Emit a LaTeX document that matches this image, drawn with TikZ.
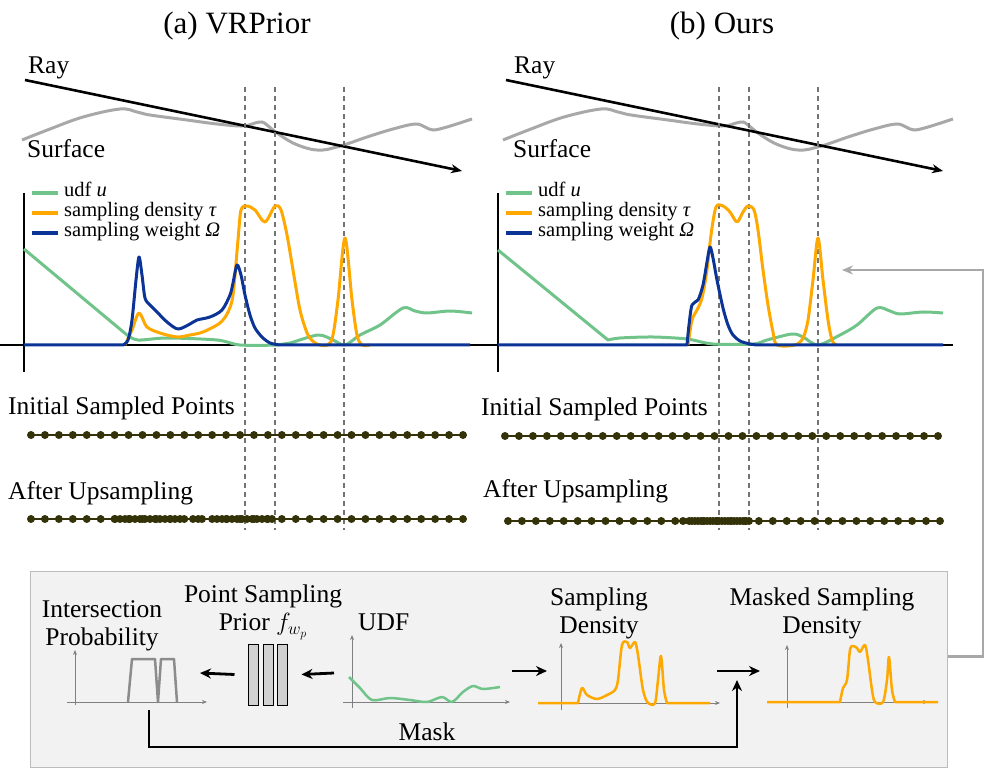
\documentclass[tikz,border=0pt]{standalone}
\usepackage{fontspec}
\setmainfont{Liberation Serif}
\usetikzlibrary{arrows.meta,positioning}

\definecolor{udfgreen}{RGB}{112,196,138}
\definecolor{densorange}{RGB}{255,168,0}
\definecolor{weightblue}{RGB}{12,52,150}
\definecolor{surfgray}{RGB}{168,168,168}
\definecolor{ptolive}{RGB}{52,50,8}
\definecolor{boxfill}{RGB}{242,242,242}
\definecolor{boxline}{RGB}{188,188,188}

\tikzset{
	curve/.style={line width=3pt, line join=round},
	udf/.style={curve, udfgreen},
	dens/.style={curve, densorange},
	weight/.style={curve, weightblue},
	surf/.style={line width=3pt, surfgray},
	raysty/.style={line width=2.6pt, -{Stealth[length=11pt,width=9pt]}},
	guide/.style={dash pattern=on 5pt off 4pt, black!55, line width=1.1pt},
	plotaxis/.style={line width=1.3pt},
	miniaxis/.style={black!50, line width=0.9pt, -{Stealth[length=5pt,width=4pt]}},
	flow/.style={line width=2.8pt, -{Stealth[length=11pt,width=10pt]}},
	feedback/.style={line width=2.4pt, surfgray, -{Stealth[length=11pt,width=9pt]}},
	ptline/.style={ptolive, line width=1.8pt},
	txt/.style={font=\fontsize{25.5}{28}\selectfont, inner sep=0pt},
	legtxt/.style={font=\fontsize{20.5}{22}\selectfont, inner sep=0pt, anchor=west, text height=10pt, text depth=2pt},
	title/.style={font=\fontsize{31}{34}\selectfont, inner sep=0pt},
	priorbox/.style={draw, fill=black!18, line width=1pt, minimum width=10pt, minimum height=61pt, inner sep=0pt},
	panelbox/.style={draw=boxline, fill=boxfill, line width=1.2pt, inner sep=0pt, anchor=north west}
}

\begin{document}
\begin{tikzpicture}[x=1pt, y=-1pt]
	\useasboundingbox (0,0) rectangle (997,778);

	% Titles
	\node[title] (titlea) at (237,26) {(a) VRPrior};
	\node[title] (titleb) at (722,26) {(b) Ours};

	% Ray, surface, guides and legend of both panels
	\foreach \p/\dx/\dr/\dt in {a/0/0/0, b/474/481/486}{
		\node[txt, anchor=base west] (ray\p) at (28+\dt,74) {Ray};
		\node[txt, anchor=base west] (surface\p) at (30+\dt-3,158) {Surface};
		\draw[surf] plot[smooth, tension=0.6] coordinates {(22+\dr,140) (50+\dr,129) (83+\dr,117) (120+\dr,109) (137+\dr,112)
			(150+\dr,115) (187+\dr,120) (217+\dr,124) (243+\dr,126) (255+\dr,123) (262+\dr,122) (267+\dr,125) (277+\dr,133)
			(293+\dr,143) (310+\dr,149) (323+\dr,150) (333+\dr,148) (347+\dr,144) (367+\dr,137) (393+\dr,129) (415+\dr,124)
			(425+\dr,127) (433+\dr,130) (447+\dr,127) (472+\dr,119)};
		\draw[raysty] (25+\dr,80) -- (462+\dr,171);
		\foreach \g in {245,275,344}
			\draw[guide] (\g+\dx,87) -- (\g+\dx,530);
		\draw[plotaxis] (24+\dx,193) -- (24+\dx,372);
		\draw[udf, line width=3.5pt] (32+\dx,193) -- (58+\dx,193);
		\draw[dens, line width=3.5pt] (32+\dx,213) -- (58+\dx,213);
		\draw[weight, line width=3.5pt] (32+\dx,233) -- (58+\dx,233);
		\node[legtxt] (legu\p) at (64+\dx,193) {udf \textit{u}};
		\node[legtxt] (legtau\p) at (64+\dx,213) {sampling density \textit{τ}};
		\node[legtxt] (legomega\p) at (64+\dx,233) {sampling weight \textit{Ω}};
	}
	\draw[plotaxis] (0,345) -- (953,345);

	% Curves of panel (a)
	\draw[udf] (24,249) -- plot[smooth, tension=0.5] coordinates {(127,335) (138,340) (167,338) (217,340) (240,345) (277,345)
		(290,343) (318,335) (333,340) (345,345) (360,335) (380,325) (403,308) (415,311) (427,313) (450,311) (472,313)};
	\draw[dens] plot[smooth, tension=0.5] coordinates {(125,345) (132,330) (139,313) (147,327) (160,333) (177,337) (190,335)
		(203,332) (220,323) (228,312) (233,295) (238,240) (241,210) (247,206) (255,210) (265,222) (275,206) (281,210)
		(287,235) (293,270) (300,310) (308,335) (317,344) (328,345) (333,335) (338,300) (345,238) (352,300) (357,335)
		(362,345) (370,345)};
	\draw[weight] (24,345) -- plot[smooth, tension=0.5] coordinates {(123,345) (128,340) (132,320) (136,280) (139,257)
		(142,275) (145,298) (150,305) (157,312) (167,322) (178,329) (190,324) (197,320) (210,317) (222,310) (230,295)
		(233,283) (237,265) (241,275) (245,295) (250,315) (255,328) (262,337) (270,343) (280,345)} -- (470,345);

	% Curves of panel (b)
	\draw[udf] (498,250) -- plot[smooth, tension=0.5] coordinates {(608,340) (620,338) (653,337) (687,339) (713,344)
		(753,344) (767,340) (792,334) (803,337) (818,345) (840,335) (857,325) (877,308) (890,311) (900,314) (923,312) (943,313)};
	\draw[dens] plot[smooth, tension=0.5] coordinates {(688,345) (692,320) (697,310) (702,298) (707,270) (711,235) (716,207)
		(723,206) (730,212) (737,222) (743,212) (748,206) (754,210) (758,230) (763,270) (768,305) (773,332) (777,345)
		(795,345) (803,338) (808,320) (813,280) (818,238) (823,280) (828,320) (832,340) (836,345)};
	\draw[weight] (498,345) -- plot[smooth, tension=0.5] coordinates {(687,345) (689,325) (692,305) (698,300) (703,285)
		(707,262) (710,247) (713,258) (717,280) (723,308) (728,325) (733,335) (740,341) (750,344) (757,345)} -- (943,345);

	% Sampled points
	\node[txt, anchor=base west] (initiala) at (8,414) {Initial Sampled Points};
	\node[txt, anchor=base west] (initialb) at (481,415) {Initial Sampled Points};
	\node[txt, anchor=base west] (upsampa) at (8,499) {After Upsampling};
	\node[txt, anchor=base west] (upsampb) at (483,497) {After Upsampling};
	\foreach \xa/\xb/\y in {31/463/435, 31/463/519, 505/938/436, 508/940/521}{
		\draw[ptline] (\xa,\y) -- (\xb,\y);
		\foreach \k in {0,...,31}
			\fill[ptolive] ({\xa+\k*(\xb-\xa)/31},\y) circle (4pt);
	}
	\foreach \x in {115,120,...,183} \fill[ptolive] (\x,519) circle (4pt);
	\foreach \x in {193,202} \fill[ptolive] (\x,519) circle (4pt);
	\foreach \x in {217,222,...,272} \fill[ptolive] (\x,519) circle (4pt);
	\foreach \x in {683,692,695,...,749} \fill[ptolive] (\x,521) circle (4pt);

	% Pipeline box
	\node[panelbox, minimum width=917pt, minimum height=196pt] (bbox) at (30,571) {};
	\node[txt, align=center, anchor=north] (intertxt) at (102,600) {Intersection\\Probability};
	\node[txt, align=center, anchor=north] (priortxt) at (263,585) {Point Sampling\\Prior $f_{w_p}$};
	\node[txt, anchor=base west] (udftxt) at (358,630) {UDF};
	\node[txt, align=center, anchor=north] (sdtxt) at (599,588) {Sampling\\Density};
	\node[txt, align=center, anchor=north] (msdtxt) at (822,588) {Masked Sampling\\Density};
	\node[txt, anchor=base] (masktxt) at (427,740) {Mask};

	% Network blocks
	\node[priorbox] (prior1) at (253,674.5) {};
	\node[priorbox, right=4pt of prior1] (prior2) {};
	\node[priorbox, right=3pt of prior2] (prior3) {};

	% Small plots
	\draw[miniaxis] (75,705) -- (75,650);
	\draw[miniaxis] (67,702) -- (207,702);
	\draw[black!45, line width=2.5pt, line join=round] (128,702) -- (132,659) -- (155,659) -- (158,702) -- (161,659)
		-- (174,659) -- (177,702);
	\draw[miniaxis] (352,708) -- (352,635);
	\draw[miniaxis] (343,702) -- (510,702);
	\draw[udf, line width=2.5pt] plot[smooth, tension=0.5] coordinates {(349,677) (360,688) (372,700) (390,698) (410,700)
		(427,702) (442,697) (452,702) (463,692) (473,686) (483,689) (500,687)};
	\draw[miniaxis] (561,710) -- (561,643);
	\draw[miniaxis] (538,703) -- (720,703);
	\draw[dens, line width=2.5pt] (538,703) -- plot[smooth, tension=0.5] coordinates {(578,703) (582,688) (587,695) (597,699)
		(607,695) (615,690) (618,680) (622,645) (627,642) (630,648) (635,642) (638,655) (643,690) (648,703) (655,703)
		(658,680) (661,656) (664,690) (667,703)} -- (710,703);
	\draw[miniaxis] (787,708) -- (787,645);
	\draw[miniaxis] (767,702) -- (928,702);
	\draw[dens, line width=2.5pt] (767,702) -- plot[smooth, tension=0.5] coordinates {(840,702) (843,688) (847,680) (850,650)
		(853,646) (857,648) (860,652) (865,645) (868,660) (872,690) (875,702) (883,702) (887,680) (889,657) (892,690)
		(895,702)} -- (938,702);

	% Connect the nodes
	\coordinate (ipin) at (200,673);
	\coordinate (udfout) at (334,673);
	\coordinate (udfend) at (512,671);
	\coordinate (sdin) at (547,671);
	\coordinate (sdend) at (717,671);
	\coordinate (msdin) at (760,671);
	\coordinate (maskstart) at (149,710);
	\coordinate (maskend) at (737,680);
	\coordinate (fbcorner) at (983,270);
	\coordinate (fbtip) at (842,270);
	\draw[flow] ([xshift=-13pt]prior1.west) -- (ipin);
	\draw[flow] (udfout) -- ([xshift=14pt]prior3.east);
	\draw[flow] (udfend) -- (sdin);
	\draw[flow] (sdend) -- (msdin);
	\draw[flow] (maskstart) -- ++(0,37) -| (maskend);
	\draw[feedback] ([yshift=13pt]bbox.east) -| (fbcorner) -- (fbtip);
\end{tikzpicture}
\end{document}
